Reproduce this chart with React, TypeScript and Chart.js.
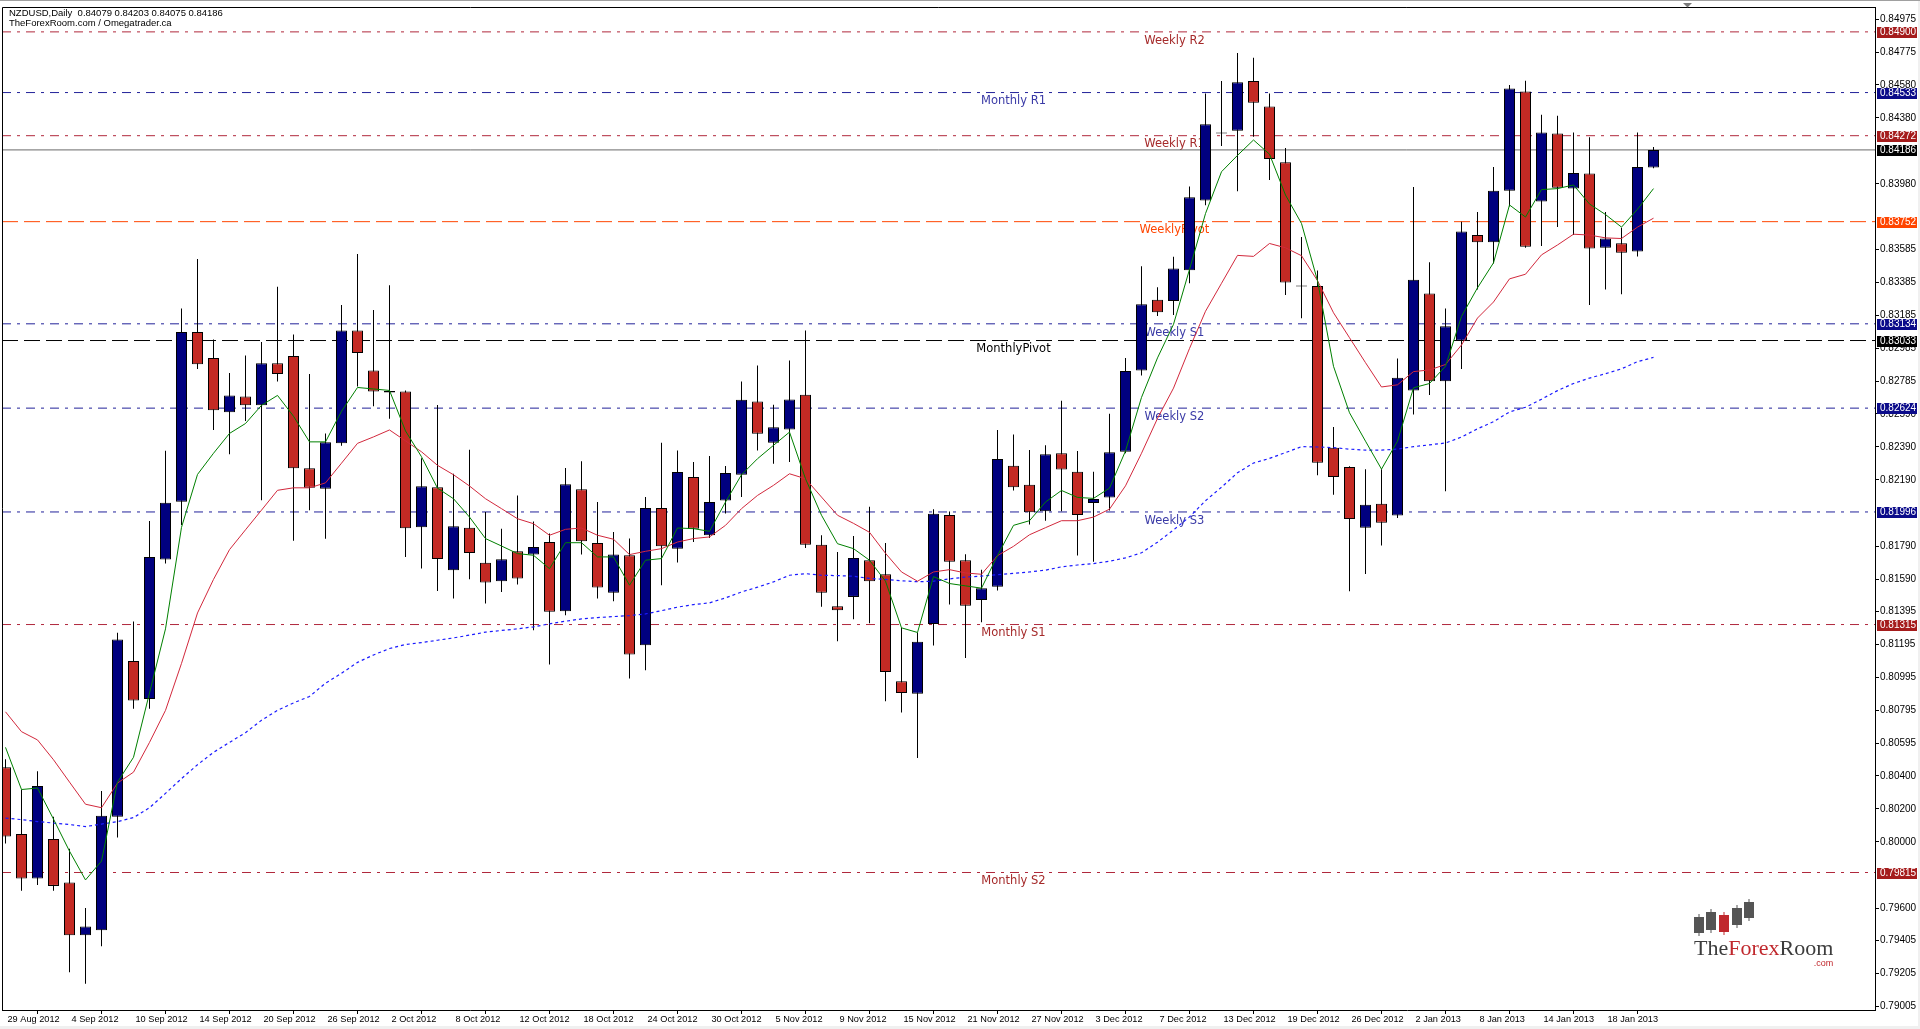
import React, { useEffect, useRef } from 'react';
import { Chart, registerables } from 'chart.js';

Chart.register(...registerables);

// ---------------- DATA ----------------
const symbolTitle = 'NZDUSD,Daily  0.84079 0.84203 0.84075 0.84186';
const sourceTitle = 'TheForexRoom.com / Omegatrader.ca';

const dateTicks = ['29 Aug 2012', '4 Sep 2012', '10 Sep 2012', '14 Sep 2012', '20 Sep 2012', '26 Sep 2012',
  '2 Oct 2012', '8 Oct 2012', '12 Oct 2012', '18 Oct 2012', '24 Oct 2012', '30 Oct 2012', '5 Nov 2012',
  '9 Nov 2012', '15 Nov 2012', '21 Nov 2012', '27 Nov 2012', '3 Dec 2012', '7 Dec 2012', '13 Dec 2012',
  '19 Dec 2012', '26 Dec 2012', '2 Jan 2013', '8 Jan 2013', '14 Jan 2013', '18 Jan 2013'];
const candlesPerDateTick = 4;

const priceTicks = [0.84975, 0.84775, 0.84580, 0.84380, 0.83980, 0.83585, 0.83385, 0.83185, 0.82985,
  0.82785, 0.82590, 0.82390, 0.82190, 0.81790, 0.81590, 0.81395, 0.81195, 0.80995, 0.80795, 0.80595,
  0.80400, 0.80200, 0.80000, 0.79600, 0.79405, 0.79205, 0.79005];

const openPrices = [0.80452, 0.80048, 0.79779, 0.80018, 0.79755, 0.79435, 0.79465, 0.80153, 0.81095, 0.80865,
  0.81708, 0.82058, 0.83084, 0.82928, 0.82599, 0.82695, 0.82641, 0.82895, 0.82940, 0.82261,
  0.82136, 0.82411, 0.83093, 0.82851, 0.82728, 0.82725, 0.81903, 0.82145, 0.81643, 0.81901,
  0.81688, 0.81577, 0.81758, 0.81738, 0.81814, 0.81396, 0.82133, 0.81808, 0.81508, 0.81734,
  0.81190, 0.82020, 0.81774, 0.82207, 0.81855, 0.82066, 0.82221, 0.82664, 0.82415, 0.82495,
  0.82705, 0.81798, 0.81426, 0.81482, 0.81704, 0.81619, 0.80972, 0.80896, 0.81318, 0.81977,
  0.81704, 0.81464, 0.81543, 0.82275, 0.82160, 0.82000, 0.82351, 0.82239, 0.82050, 0.82084,
  0.82360, 0.82852, 0.83280, 0.83272, 0.83458, 0.83880, 0.84292, 0.84302, 0.84603, 0.84449,
  0.84112, 0.83366, 0.83363, 0.82385, 0.82268, 0.81901, 0.82046, 0.81974, 0.82730, 0.83317,
  0.82786, 0.83032, 0.83671, 0.83628, 0.83939, 0.84539, 0.83874, 0.84285, 0.83952, 0.84043,
  0.83594, 0.83622, 0.83572, 0.84079];

const highPrices = [0.80500, 0.80317, 0.80428, 0.80153, 0.79959, 0.79600, 0.80308, 0.81266, 0.81334, 0.81941,
  0.82366, 0.83227, 0.83526, 0.83039, 0.82836, 0.82943, 0.83024, 0.83359, 0.83069, 0.82830,
  0.82471, 0.83248, 0.83556, 0.83218, 0.83368, 0.82731, 0.82321, 0.82643, 0.82227, 0.82372,
  0.81996, 0.81895, 0.82096, 0.81939, 0.81865, 0.82262, 0.82302, 0.82056, 0.81875, 0.81835,
  0.82086, 0.82415, 0.82368, 0.82298, 0.82334, 0.82274, 0.82785, 0.82882, 0.82644, 0.82912,
  0.83093, 0.81855, 0.81754, 0.81851, 0.82027, 0.81808, 0.81295, 0.81267, 0.82013, 0.81999,
  0.81740, 0.81647, 0.82492, 0.82464, 0.82371, 0.82399, 0.82669, 0.82365, 0.82239, 0.82590,
  0.82928, 0.83483, 0.83356, 0.83539, 0.83964, 0.84527, 0.84603, 0.84772, 0.84744, 0.84527,
  0.84198, 0.83659, 0.83456, 0.82510, 0.82272, 0.82255, 0.82255, 0.82924, 0.83961, 0.83507,
  0.83227, 0.83751, 0.83810, 0.84082, 0.84578, 0.84604, 0.84399, 0.84393, 0.84291, 0.84263,
  0.83810, 0.83715, 0.84291, 0.84203];

const lowPrices = [0.79990, 0.79704, 0.79740, 0.79704, 0.79211, 0.79142, 0.79369, 0.80027, 0.80805, 0.80805,
  0.81684, 0.81917, 0.82860, 0.82492, 0.82345, 0.82546, 0.82067, 0.82785, 0.81822, 0.82007,
  0.81834, 0.82396, 0.82755, 0.82635, 0.82560, 0.81723, 0.81654, 0.81518, 0.81472, 0.81589,
  0.81442, 0.81512, 0.81557, 0.81281, 0.81073, 0.81371, 0.81738, 0.81472, 0.81456, 0.80989,
  0.81039, 0.81553, 0.81690, 0.81815, 0.81839, 0.81986, 0.82086, 0.82368, 0.82288, 0.82298,
  0.81778, 0.81422, 0.81214, 0.81347, 0.81323, 0.80851, 0.80783, 0.80507, 0.81188, 0.81436,
  0.81112, 0.81329, 0.81521, 0.82126, 0.81920, 0.81943, 0.82000, 0.81732, 0.81695, 0.82005,
  0.82351, 0.82821, 0.83182, 0.83187, 0.83379, 0.83852, 0.84209, 0.83936, 0.84266, 0.84004,
  0.83309, 0.83168, 0.82218, 0.82100, 0.81517, 0.81620, 0.81793, 0.81960, 0.82585, 0.82704,
  0.82121, 0.82860, 0.83341, 0.83499, 0.83844, 0.83594, 0.83605, 0.83719, 0.83671, 0.83248,
  0.83341, 0.83313, 0.83542, 0.84075];

const closePrices = [0.80033, 0.79779, 0.80338, 0.79734, 0.79435, 0.79489, 0.80159, 0.81224, 0.80856, 0.81723,
  0.82052, 0.83084, 0.82889, 0.82611, 0.82701, 0.82641, 0.82895, 0.82830, 0.82261, 0.82142,
  0.82417, 0.83093, 0.82958, 0.82725, 0.82718, 0.81897, 0.82151, 0.81712, 0.81909, 0.81748,
  0.81569, 0.81710, 0.81593, 0.81784, 0.81392, 0.82163, 0.81819, 0.81539, 0.81738, 0.81134,
  0.82020, 0.81788, 0.82237, 0.81895, 0.82056, 0.82231, 0.82674, 0.82469, 0.82509, 0.82677,
  0.81798, 0.81508, 0.81402, 0.81718, 0.81577, 0.81028, 0.80901, 0.81211, 0.81985, 0.81695,
  0.81428, 0.81535, 0.82317, 0.82146, 0.81994, 0.82345, 0.82253, 0.81977, 0.82075, 0.82357,
  0.82849, 0.83252, 0.83204, 0.83469, 0.83900, 0.84342, 0.84285, 0.84595, 0.84471, 0.84131,
  0.83384, 0.83360, 0.82294, 0.82208, 0.81953, 0.82039, 0.81931, 0.82808, 0.83400, 0.82786,
  0.83119, 0.83693, 0.83628, 0.83939, 0.84557, 0.83600, 0.84291, 0.83957, 0.84047, 0.83589,
  0.83650, 0.83564, 0.84082, 0.84186];

const maFast = [0.80572, 0.80317, 0.80326, 0.80138, 0.79944, 0.79770, 0.79884, 0.80362, 0.80512, 0.80901,
  0.81289, 0.81903, 0.82223, 0.82351, 0.82471, 0.82531, 0.82641, 0.82701, 0.82575, 0.82420,
  0.82420, 0.82605, 0.82749, 0.82740, 0.82731, 0.82486, 0.82330, 0.82140, 0.82076, 0.81965,
  0.81835, 0.81790, 0.81744, 0.81734, 0.81653, 0.81810, 0.81810, 0.81724, 0.81724, 0.81553,
  0.81704, 0.81714, 0.81899, 0.81895, 0.81879, 0.82056, 0.82221, 0.82318, 0.82399, 0.82479,
  0.82197, 0.81976, 0.81804, 0.81774, 0.81704, 0.81577, 0.81295, 0.81267, 0.81605, 0.81563,
  0.81549, 0.81535, 0.81732, 0.81915, 0.81943, 0.82056, 0.82126, 0.82084, 0.82078, 0.82140,
  0.82365, 0.82689, 0.82928, 0.83131, 0.83463, 0.83801, 0.84054, 0.84153, 0.84246, 0.84160,
  0.83913, 0.83741, 0.83395, 0.82877, 0.82596, 0.82424, 0.82255, 0.82424, 0.82747, 0.82773,
  0.82877, 0.83179, 0.83352, 0.83503, 0.83853, 0.83780, 0.83946, 0.83952, 0.83974, 0.83859,
  0.83795, 0.83719, 0.83827, 0.83952];

const maMid = [0.80787, 0.80667, 0.80617, 0.80497, 0.80362, 0.80228, 0.80207, 0.80356, 0.80422, 0.80602,
  0.80796, 0.81080, 0.81385, 0.81588, 0.81768, 0.81888, 0.82007, 0.82127, 0.82142, 0.82142,
  0.82172, 0.82291, 0.82411, 0.82450, 0.82492, 0.82426, 0.82360, 0.82278, 0.82221, 0.82153,
  0.82076, 0.82016, 0.81955, 0.81925, 0.81855, 0.81891, 0.81899, 0.81855, 0.81831, 0.81738,
  0.81758, 0.81774, 0.81814, 0.81835, 0.81845, 0.81915, 0.82016, 0.82096, 0.82157, 0.82227,
  0.82197, 0.82086, 0.81976, 0.81927, 0.81873, 0.81746, 0.81633, 0.81577, 0.81633, 0.81647,
  0.81627, 0.81619, 0.81732, 0.81788, 0.81858, 0.81901, 0.81943, 0.81943, 0.81965, 0.82013,
  0.82154, 0.82351, 0.82562, 0.82745, 0.82985, 0.83210, 0.83379, 0.83548, 0.83542, 0.83620,
  0.83594, 0.83546, 0.83395, 0.83201, 0.83050, 0.82899, 0.82752, 0.82765, 0.82845, 0.82855,
  0.82888, 0.83006, 0.83169, 0.83266, 0.83406, 0.83434, 0.83551, 0.83611, 0.83676, 0.83671,
  0.83654, 0.83650, 0.83719, 0.83773];

const maSlow = [0.80144, 0.80135, 0.80123, 0.80114, 0.80105, 0.80093, 0.80108, 0.80123, 0.80147, 0.80207,
  0.80294, 0.80383, 0.80467, 0.80542, 0.80602, 0.80661, 0.80736, 0.80796, 0.80841, 0.80880,
  0.80960, 0.81020, 0.81086, 0.81131, 0.81170, 0.81194, 0.81206, 0.81220, 0.81234, 0.81251,
  0.81269, 0.81279, 0.81289, 0.81301, 0.81319, 0.81335, 0.81349, 0.81357, 0.81363, 0.81369,
  0.81379, 0.81399, 0.81420, 0.81436, 0.81446, 0.81476, 0.81512, 0.81541, 0.81573, 0.81613,
  0.81623, 0.81613, 0.81611, 0.81607, 0.81594, 0.81588, 0.81580, 0.81574, 0.81577, 0.81591,
  0.81602, 0.81608, 0.81616, 0.81625, 0.81633, 0.81644, 0.81664, 0.81675, 0.81684, 0.81698,
  0.81718, 0.81749, 0.81813, 0.81887, 0.81966, 0.82064, 0.82146, 0.82233, 0.82292, 0.82320,
  0.82355, 0.82391, 0.82389, 0.82385, 0.82376, 0.82370, 0.82370, 0.82376, 0.82391, 0.82402,
  0.82413, 0.82449, 0.82499, 0.82542, 0.82601, 0.82629, 0.82678, 0.82730, 0.82773, 0.82806,
  0.82832, 0.82862, 0.82905, 0.82931];

const levelNames = ['Weekly R2', 'Monthly R1', 'Weekly R1', 'WeeklyPivot', 'Weekly S1', 'MonthlyPivot',
  'Weekly S2', 'Weekly S3', 'Monthly S1', 'Monthly S2'];
const levelValues = [0.84900, 0.84533, 0.84272, 0.83752, 0.83134, 0.83033, 0.82624, 0.81996, 0.81315, 0.79815];
const currentPrice = 0.84186;

// ---------------- STYLE ----------------
const X_MIN = -0.21875;
const X_MAX = 116.84375;
const Y_MIN = 0.789833;
const Y_MAX = 0.850505;

const BULL = '#00007F';
const BEAR = '#C42A24';
const DASHDOT = [9, 6, 3, 6];
const DASH = [16, 6];

const BROWN = { line: '#B0283C', text: '#A52A2A', box: '#A51C1C' };
const NAVY = { line: '#22229A', text: '#3A3AA6', box: '#0B0B8A' };
const ORANGE = { line: '#FF4500', text: '#FF4500', box: '#FF4500' };
const BLACK = { line: '#000000', text: '#000000', box: '#000000' };

const WEEKLY_X = 73.06;
const MONTHLY_X = 63.0;

const levelStyle: Record<string, any> = {
  'Weekly R2': { ...BROWN, dash: DASHDOT, at: WEEKLY_X },
  'Monthly R1': { ...NAVY, dash: DASHDOT, at: MONTHLY_X },
  'Weekly R1': { ...BROWN, dash: DASHDOT, at: WEEKLY_X },
  'WeeklyPivot': { ...ORANGE, dash: DASH, at: WEEKLY_X },
  'Weekly S1': { ...NAVY, dash: DASHDOT, at: WEEKLY_X },
  'MonthlyPivot': { ...BLACK, dash: DASH, at: MONTHLY_X },
  'Weekly S2': { ...NAVY, dash: DASHDOT, at: WEEKLY_X },
  'Weekly S3': { ...NAVY, dash: DASHDOT, at: WEEKLY_X },
  'Monthly S1': { ...BROWN, dash: DASHDOT, at: MONTHLY_X },
  'Monthly S2': { ...BROWN, dash: DASHDOT, at: MONTHLY_X },
};

const AXIS_FONT = '"Liberation Sans", Arial, sans-serif';

// ---------------- PLUGINS ----------------
const backgroundPlugin = {
  id: 'mt4Background',
  beforeDraw(chart: any) {
    const { ctx, width, height } = chart;
    ctx.save();
    ctx.fillStyle = '#ffffff';
    ctx.fillRect(0, 0, width, height);
    ctx.fillStyle = '#F0F0F0';
    ctx.fillRect(1918, 0, width - 1918, height);
    ctx.fillRect(0, 1026, width, height - 1026);
    ctx.restore();
  },
};

const levelTextPlugin = {
  id: 'levelText',
  beforeDatasetsDraw(chart: any) {
    const { ctx, scales } = chart;
    ctx.save();
    ctx.font = '11.5px "DejaVu Sans", sans-serif';
    ctx.textAlign = 'center';
    ctx.textBaseline = 'top';
    levelNames.forEach((name, i) => {
      const st = levelStyle[name];
      const y = scales.y.getPixelForValue(levelValues[i]);
      const x = scales.x.getPixelForValue(st.at);
      ctx.fillStyle = st.text;
      ctx.fillText(name, x, y + 3);
    });
    ctx.restore();
  },
};

const overlayPlugin = {
  id: 'overlay',
  afterDraw(chart: any) {
    const { ctx, scales, chartArea } = chart;
    ctx.save();
    // frame
    ctx.strokeStyle = '#000';
    ctx.lineWidth = 1;
    ctx.beginPath();
    ctx.moveTo(chartArea.left + 0.5, chartArea.bottom);
    ctx.lineTo(chartArea.left + 0.5, chartArea.top + 0.5);
    ctx.lineTo(chartArea.right, chartArea.top + 0.5);
    ctx.stroke();
    ctx.strokeStyle = '#A0A0A0';
    ctx.beginPath();
    ctx.moveTo(0, 0.5);
    ctx.lineTo(1920, 0.5);
    ctx.stroke();

    // price boxes on the axis
    ctx.font = '10px ' + AXIS_FONT;
    ctx.textBaseline = 'middle';
    ctx.textAlign = 'left';
    const boxes = levelNames.map((n, i) => ({ v: levelValues[i], c: levelStyle[n].box }));
    boxes.push({ v: currentPrice, c: '#000000' });
    boxes.forEach(b => {
      const y = Math.round(scales.y.getPixelForValue(b.v));
      ctx.fillStyle = b.c;
      ctx.fillRect(chartArea.right + 2, y - 5, 40, 11);
      ctx.fillStyle = '#fff';
      ctx.fillText(b.v.toFixed(5), chartArea.right + 5, y + 0.5);
    });

    // header
    ctx.fillStyle = '#000';
    ctx.font = '9.5px ' + AXIS_FONT;
    ctx.fillText(symbolTitle, 9, 13);
    ctx.fillText(sourceTitle, 9, 23);

    // shift marker
    ctx.fillStyle = '#7A7A7A';
    ctx.beginPath();
    ctx.moveTo(1683, 3);
    ctx.lineTo(1692, 3);
    ctx.lineTo(1687.5, 7.5);
    ctx.closePath();
    ctx.fill();

    // logo
    const bars = [[1694, 917, 933, '#555'], [1706, 912, 930, '#555'], [1719, 915, 932, '#C0282D'],
      [1732, 908, 925, '#555'], [1744, 902, 918, '#555']];
    bars.forEach(([x, t, b, c]: any) => {
      ctx.fillStyle = c;
      ctx.fillRect(x, t, 10, b - t);
      ctx.fillRect(x + 4.5, t - 3, 1, b - t + 6);
    });
    ctx.font = '22px "Liberation Serif", serif';
    ctx.textBaseline = 'alphabetic';
    let lx = 1694;
    [['The', '#3C3C3C'], ['Forex', '#C0282D'], ['Room', '#3C3C3C']].forEach(([t, c]) => {
      ctx.fillStyle = c;
      ctx.fillText(t, lx, 955);
      lx += ctx.measureText(t).width;
    });
    ctx.font = '9px "Liberation Sans", sans-serif';
    ctx.fillStyle = '#C0282D';
    ctx.textAlign = 'right';
    ctx.fillText('.com', lx, 966);
    ctx.restore();
  },
};

// ---------------- CHART ----------------
function buildConfig(): any {
  const idx = openPrices.map((_, i) => i);
  const levelDatasets = levelNames.map((name, i) => ({
    type: 'line',
    label: name,
    data: [{ x: X_MIN, y: levelValues[i] }, { x: X_MAX, y: levelValues[i] }],
    borderColor: levelStyle[name].line,
    borderWidth: 1,
    borderDash: levelStyle[name].dash,
    pointRadius: 0,
    order: 20,
  }));
  return {
    type: 'bar',
    data: {
      datasets: [
        {
          type: 'line', label: 'MA fast', data: idx.map(i => ({ x: i, y: maFast[i] })),
          borderColor: '#008000', borderWidth: 1, pointRadius: 0, tension: 0, order: 1,
        },
        {
          type: 'line', label: 'MA mid', data: idx.map(i => ({ x: i, y: maMid[i] })),
          borderColor: '#D2283C', borderWidth: 1, pointRadius: 0, tension: 0, order: 2,
        },
        {
          type: 'line', label: 'MA slow', data: idx.map(i => ({ x: i, y: maSlow[i] })),
          borderColor: '#1A1AFF', borderWidth: 1.2, borderDash: [3, 3], pointRadius: 0, tension: 0, order: 3,
        },
        {
          type: 'bar', label: 'body', data: idx.map(i => ({ x: i, y: [openPrices[i], closePrices[i]] })),
          backgroundColor: idx.map(i => (closePrices[i] > openPrices[i] ? BULL : BEAR)),
          borderColor: '#000', borderWidth: 1, borderSkipped: false, barThickness: 11,
          grouped: false, minBarLength: 1, inflateAmount: 0, order: 5,
        },
        {
          type: 'bar', label: 'wick', data: idx.map(i => ({ x: i, y: [lowPrices[i], highPrices[i]] })),
          backgroundColor: '#000', borderWidth: 0, barThickness: 1, grouped: false, inflateAmount: 0, order: 6,
        },
        {
          type: 'line', label: 'price', data: [{ x: X_MIN, y: currentPrice }, { x: X_MAX, y: currentPrice }],
          borderColor: '#6A6A6A', borderWidth: 1, pointRadius: 0, order: 19,
        },
        ...levelDatasets,
      ],
    },
    options: {
      responsive: false,
      animation: false,
      devicePixelRatio: 1,
      layout: { padding: { left: 2, top: 2, right: 0, bottom: 0 } },
      plugins: { legend: { display: false }, tooltip: { enabled: false } },
      scales: {
        x: {
          type: 'linear',
          min: X_MIN,
          max: X_MAX,
          offset: false,
          afterFit: (s: any) => { s.height = 19; },
          afterBuildTicks: (s: any) => { s.ticks = dateTicks.map((_, k) => ({ value: k * candlesPerDateTick })); },
          grid: { drawOnChartArea: false, drawTicks: true, tickLength: 4, color: '#000' },
          border: { display: true, color: '#000', width: 1 },
          ticks: {
            autoSkip: false, maxRotation: 0, minRotation: 0, align: 'start', labelOffset: 2, padding: 0,
            color: '#000', font: { family: AXIS_FONT, size: 9.2 },
            callback: (v: number) => dateTicks[Math.round(v / candlesPerDateTick)] ?? '',
          },
        },
        y: {
          type: 'linear',
          position: 'right',
          min: Y_MIN,
          max: Y_MAX,
          afterFit: (s: any) => { s.width = 45; },
          afterBuildTicks: (s: any) => { s.ticks = priceTicks.map(v => ({ value: v })); },
          grid: { drawOnChartArea: false, drawTicks: true, tickLength: 4, color: '#000' },
          border: { display: true, color: '#000', width: 1 },
          ticks: {
            autoSkip: false, padding: 1, color: '#000', font: { family: AXIS_FONT, size: 10 },
            callback: (v: number) => Number(v).toFixed(5),
          },
        },
      },
    },
    plugins: [backgroundPlugin, levelTextPlugin, overlayPlugin],
  };
}

export default function App() {
  const ref = useRef<HTMLCanvasElement>(null);
  useEffect(() => {
    document.body.style.margin = '0';
    const chart = new Chart(ref.current as HTMLCanvasElement, buildConfig());
    return () => chart.destroy();
  }, []);
  return (
    <div style={{ width: 1920, height: 1029, overflow: 'hidden' }}>
      <canvas ref={ref} width={1920} height={1029} style={{ display: 'block' }} />
    </div>
  );
}
